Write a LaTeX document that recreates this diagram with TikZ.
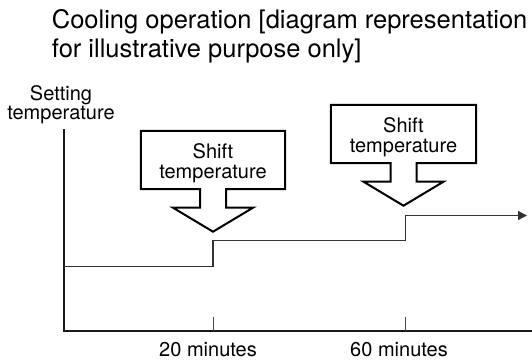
\documentclass[tikz,border=0pt]{standalone}
\usepackage{fontspec}
\setmainfont{TeX Gyre Heros}
\usetikzlibrary{arrows.meta}
\definecolor{axiscol}{HTML}{1A1A1A}
\definecolor{stepcol}{HTML}{333333}
\definecolor{tickcol}{HTML}{444444}
\tikzset{
  titletext/.style={inner sep=0pt, align=left, anchor=north west, font=\fontsize{25.5}{28.4}\selectfont},
  labeltext/.style={inner sep=0pt, align=center, font=\fontsize{20}{19.5}\selectfont},
  calloutbox/.style={minimum width=144pt, minimum height=58pt, inner sep=0pt},
  callouttext/.style={inner sep=0pt, align=center, font=\fontsize{20}{20}\selectfont},
  calloutline/.style={draw=black, line width=2pt, line join=miter},
  axisline/.style={draw=axiscol, line width=2pt},
  stepline/.style={draw=stepcol, line width=1.3pt},
  tickline/.style={draw=tickcol, line width=1pt},
}
\newcommand{\calloutshape}[1]{%
  \draw[calloutline] (#1.south west) -- (#1.north west) -- (#1.north east) -- (#1.south east)
    -- ([xshift=13pt]#1.south) -- ++(0,18.5) -- ++(27,0) -- ++(-40,24) -- ++(-40,-24)
    -- ++(27,0) -- ++(0,-18.5) -- cycle;}
\begin{document}
\begin{tikzpicture}[x=1pt,y=-1pt]
\useasboundingbox (0,0) rectangle (532,361);
% title
\node[titletext] (title) at (51.7,9.7) {Cooling operation [diagram representation\\for illustrative purpose only]};
% axis label
\node[labeltext] (ylabel) at (61,104.5) {Setting\\temperature};
% axes
\coordinate (ytop) at (64,130);
\coordinate (orig) at (64,331);
\coordinate (xend) at (531,331);
\draw[axisline, line cap=rect] (ytop) -- (orig) -- (xend);
% ticks
\coordinate (t1top) at (213,316.7);
\coordinate (t1bot) at (213,331);
\coordinate (t2top) at (405,316.7);
\coordinate (t2bot) at (405,331);
\draw[tickline] (t1top) -- (t1bot);
\draw[tickline] (t2top) -- (t2bot);
% tick labels
\node[labeltext, anchor=base] (l20) at (208,356) {20 minutes};
\node[labeltext, anchor=base] (l60) at (399,356) {60 minutes};
% step line
\coordinate (s0) at (64,266.7);
\coordinate (s1) at (213,266.7);
\coordinate (s2) at (213,240.5);
\coordinate (s3) at (405.5,240.5);
\coordinate (s4) at (405.5,215.5);
\coordinate (s5) at (527,215.5);
\draw[stepline, -{Triangle[length=9pt,width=9pt]}] (s0) -- (s1) -- (s2) -- (s3) -- (s4) -- (s5);
% callouts
\node[calloutbox] (b1) at (213,160) {};
\node[callouttext] (b1t) at (213,162.8) {Shift\\temperature};
\calloutshape{b1}
\node[calloutbox, minimum width=145pt] (b2) at (403.5,134) {};
\node[callouttext] (b2t) at (403.5,136.8) {Shift\\temperature};
\calloutshape{b2}
\end{tikzpicture}
\end{document}
